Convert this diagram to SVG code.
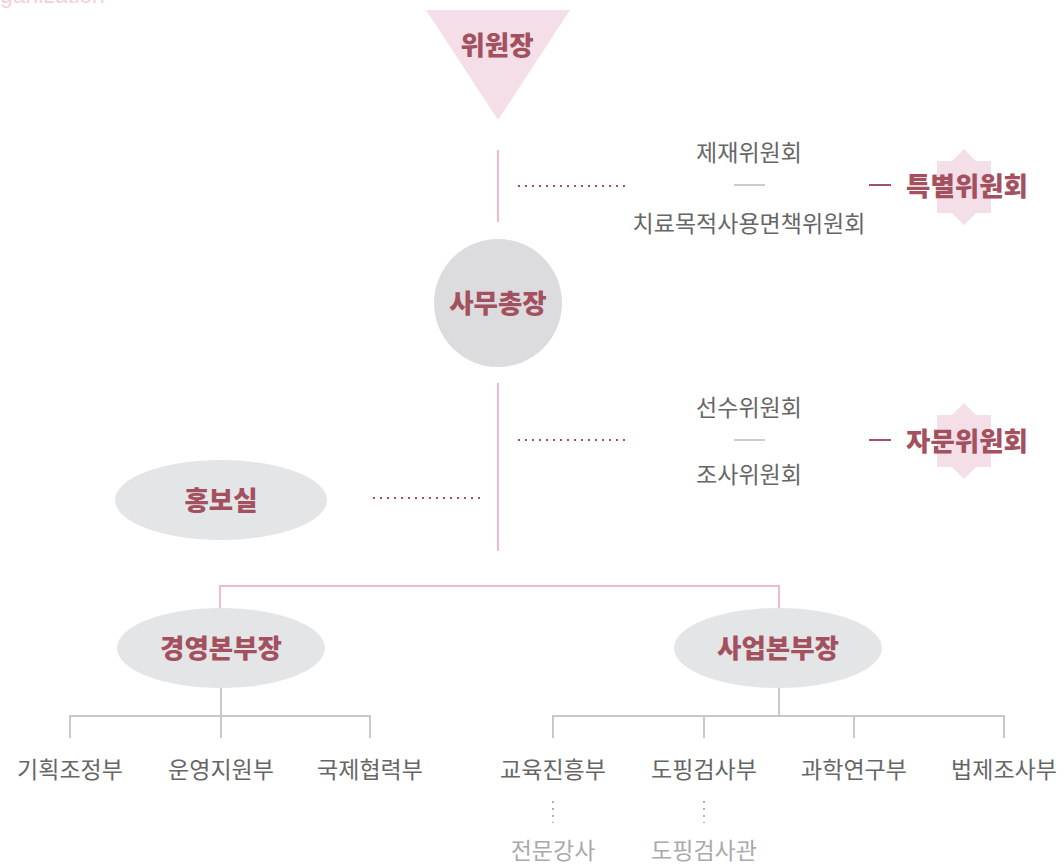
<svg xmlns="http://www.w3.org/2000/svg" width="1063" height="865" viewBox="0 0 1063 865">
<style>
.b{font-family:"Noto Sans CJK KR","Noto Sans",sans-serif;font-weight:900;font-size:26.5px;fill:#a3505f;text-anchor:middle}
.t{font-family:"Noto Sans CJK KR","Noto Sans",sans-serif;font-weight:400;font-size:23px;fill:#666;text-anchor:middle}
.s{font-family:"Noto Sans CJK KR","Noto Sans",sans-serif;font-weight:400;font-size:23px;fill:#aaa;text-anchor:middle}
.dot{stroke:#a3505f;stroke-width:2;stroke-dasharray:2 5;fill:none}
.vdot{stroke:#999;stroke-width:1.5;stroke-dasharray:2 5;fill:none}
.pk{stroke:#efb9d2;stroke-width:2;fill:none}
.gr{stroke:#c8c8c8;stroke-width:2;fill:none}
.node{fill:#e4e5e7}
</style>
<text x="0" y="3" font-family="Liberation Sans,sans-serif" font-size="23" fill="#f3cfe1">ganization</text>
<g id="connectors">
<line class="pk" x1="498" y1="150" x2="498" y2="222"/>
<line class="pk" x1="498" y1="383" x2="498" y2="551"/>
<polyline class="pk" points="220,608 220,586 779,586 779,608"/>
<line class="dot" x1="518" y1="186" x2="626" y2="186"/>
<line class="dot" x1="518" y1="440" x2="626" y2="440"/>
<line class="dot" x1="373" y1="498" x2="481" y2="498"/>
<line x1="734" y1="185" x2="765" y2="185" stroke="#bbb" stroke-width="1.5"/>
<line x1="734" y1="440" x2="765" y2="440" stroke="#bbb" stroke-width="1.5"/>
<line x1="869" y1="185" x2="891" y2="185" stroke="#a3505f" stroke-width="2"/>
<line x1="869" y1="440" x2="891" y2="440" stroke="#a3505f" stroke-width="2"/>
<line class="gr" x1="221" y1="688" x2="221" y2="716"/>
<polyline class="gr" points="70,738 70,716 370,716 370,738"/>
<line class="gr" x1="221" y1="716" x2="221" y2="738"/>
<line class="gr" x1="779" y1="688" x2="779" y2="716"/>
<polyline class="gr" points="553,738 553,716 1004,716 1004,738"/>
<line class="gr" x1="704" y1="716" x2="704" y2="738"/>
<line class="gr" x1="854" y1="716" x2="854" y2="738"/>
<line class="vdot" x1="553" y1="801" x2="553" y2="823"/>
<line class="vdot" x1="704" y1="801" x2="704" y2="823"/>
</g>
<g id="chairman">
<polygon points="426,10 570,10 498,120" fill="#f4dfe9"/>
<text class="b" x="497" y="55">위원장</text>
</g>
<g id="secretary">
<circle cx="498" cy="303" r="64" fill="#dcdcde"/>
<text class="b" x="498" y="313">사무총장</text>
</g>
<g id="special">
<polygon points="964,149 976,161 991,161 991,213 976,213 964,225 952,213 937,213 937,161 952,161" fill="#f4dfe9"/>
<text class="b" x="967" y="196">특별위원회</text>
</g>
<g id="sanction"><text class="t" x="749" y="161">제재위원회</text></g>
<g id="tue"><text class="t" x="749" y="232">치료목적사용면책위원회</text></g>
<g id="advisory">
<polygon points="964,403 976,415 991,415 991,467 976,467 964,479 952,467 937,467 937,415 952,415" fill="#f4dfe9"/>
<text class="b" x="967" y="451">자문위원회</text>
</g>
<g id="athlete"><text class="t" x="749" y="416">선수위원회</text></g>
<g id="investigation"><text class="t" x="749" y="483">조사위원회</text></g>
<g id="pr">
<ellipse class="node" cx="221" cy="500" rx="106" ry="40"/>
<text class="b" x="221" y="510">홍보실</text>
</g>
<g id="mgmt">
<ellipse class="node" cx="221" cy="648" rx="104" ry="40"/>
<text class="b" x="221" y="658">경영본부장</text>
</g>
<g id="biz">
<ellipse class="node" cx="778" cy="648" rx="104" ry="40"/>
<text class="b" x="778" y="658">사업본부장</text>
</g>
<g id="d1"><text class="t" x="70" y="778">기획조정부</text></g>
<g id="d2"><text class="t" x="221" y="778">운영지원부</text></g>
<g id="d3"><text class="t" x="370" y="778">국제협력부</text></g>
<g id="d4"><text class="t" x="553" y="778">교육진흥부</text></g>
<g id="d5"><text class="t" x="704" y="778">도핑검사부</text></g>
<g id="d6"><text class="t" x="854" y="778">과학연구부</text></g>
<g id="d7"><text class="t" x="1004" y="778">법제조사부</text></g>
<g id="s1"><text class="s" x="553" y="859">전문강사</text></g>
<g id="s2"><text class="s" x="704" y="859">도핑검사관</text></g>
</svg>
